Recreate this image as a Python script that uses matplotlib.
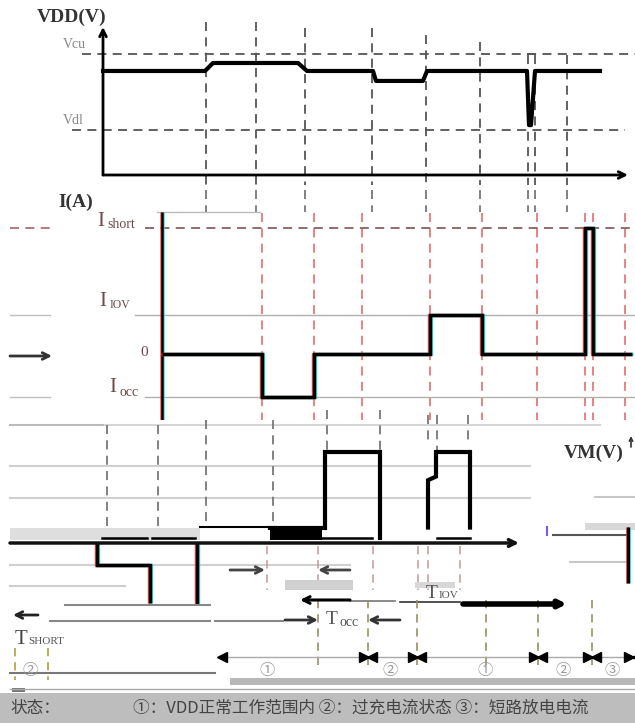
import matplotlib
matplotlib.use('Agg')
import matplotlib.pyplot as plt
import matplotlib.transforms as mtransforms
from matplotlib.patches import Rectangle

plt.rcParams['font.family'] = ['Liberation Serif', 'Noto Sans CJK SC', 'DejaVu Sans']

W, H = 635, 724

# ---------------- data ----------------
# VDD waveform: time breakpoints and voltage levels (arbitrary units)
vdd_t = [103, 205, 213, 298, 307, 373, 376, 423, 427, 527, 529, 531, 535, 600]
vdd_v = [3.65, 3.65, 3.93, 3.93, 3.65, 3.65, 3.30, 3.30, 3.65, 3.65, 1.75, 1.75, 3.65, 3.65]
vcu = 4.25
vdl = 1.58

# Current waveform
i_t = [162, 262, 262, 314, 314, 430, 430, 482, 482, 585, 585, 593, 593, 632]
i_v = [0, 0, -1.1, -1.1, 0, 0, 1.0, 1.0, 0, 0, 3.23, 3.23, 0, 0]
i_short, i_iov, i_occ = 3.23, 1.0, -1.1

# VM waveform fragments
vm1_t = [97, 97, 150, 150]
vm1_v = [0.0, -0.24, -0.24, -0.66]
vm2_t = [197, 197]
vm2_v = [0.0, -0.68]
vm3_t = [270, 325, 325, 380, 380]
vm3_v = [0.17, 0.17, 1.0, 1.0, 0.05]
vm4_t = [428, 428, 436, 436, 470, 470]
vm4_v = [0.17, 0.69, 0.73, 1.0, 1.0, 0.17]

# event times (dashed markers)
top_events = [206, 256, 305, 372, 426, 480, 528, 535, 567]
mid_events = [262, 314, 362, 430, 482, 537, 585, 593, 625]
bowtie_t = [368, 417, 538, 592, 633]
state_t = [30, 267, 390, 485, 563, 612]
state_lbl = ['②', '①', '②', '①', '②', '③']

# ---------------- figure ----------------
fig = plt.figure(figsize=(6.35, 7.24), dpi=100)


def make_ax(top_px, bot_px, ylim):
    ax = fig.add_axes([0, 1 - bot_px / H, 1, (bot_px - top_px) / H])
    ax.set_xlim(0, W)
    ax.set_ylim(*ylim)
    ax.axis('off')
    return ax


def ty(p):
    return (175 - p) / 28.5


def my(p):
    return (354 - p) / 39.0


def by(p):
    return (543 - p) / 91.0


ax_t = make_ax(0, 185, (ty(185), ty(0)))
ax_m = make_ax(190, 420, (my(420), my(190)))
ax_b = make_ax(410, 610, (by(610), by(410)))
ax_a = make_ax(540, 724, (724, 540))

DASH = (0, (5, 3.5))


def ab_plot(ax, x, y, lw=2.5, shift=1.3, color='k', alpha=0.85):
    for dx, c in ((-shift, '#ff2a2a'), (shift, '#20e0e0')):
        tr = mtransforms.offset_copy(ax.transData, fig=fig, x=dx, y=0, units='dots')
        ax.plot(x, y, color=c, lw=lw, transform=tr, alpha=alpha, solid_capstyle='butt')
    ax.plot(x, y, color=color, lw=lw, solid_capstyle='butt', solid_joinstyle='miter')


def arrow(ax, x0, y0, x1, y1, lw=2, color='k', style='->', ms=12):
    ax.annotate('', xy=(x1, y1), xytext=(x0, y0),
                arrowprops=dict(arrowstyle=style, lw=lw, color=color,
                                mutation_scale=ms, shrinkA=0, shrinkB=0))

# ============ TOP PANEL: VDD ============
for x, top in zip(top_events, [22, 22, 28, 28, 35, 42, 55, 55, 55]):
    ax_t.plot([x, x], [ty(top), ty(185)], ls=DASH, lw=1.3, color='#555')
    ax_m.plot([x, x], [my(190), my(212)], ls=DASH, lw=1.3, color='#777')
ax_t.plot([528, 535], [vcu, vcu], lw=1.3, color='#555')
ax_t.plot([82, 635], [vcu, vcu], ls=DASH, lw=1.3, color='#555')
ax_t.plot([72, 625], [vdl, vdl], ls=DASH, lw=1.3, color='#555')
arrow(ax_t, 103, 0, 103, ty(27), lw=2)
arrow(ax_t, 103, 0, 628, 0, lw=2)
ax_t.plot(vdd_t, vdd_v, color='k', lw=3, solid_joinstyle='round')
ax_t.text(72, ty(17), 'VDD(V)', fontsize=14, fontweight='bold', color='#333',
          ha='center', va='center', family='Liberation Serif')
ax_t.text(74, ty(44), 'Vcu', fontsize=10, color='#888', ha='center', va='center')
ax_t.text(73, ty(120), 'Vdl', fontsize=10, color='#888', ha='center', va='center')

# ============ MIDDLE PANEL: I ============
ax_m.plot([157, 260], [my(212), my(212)], lw=1, color='#bbb')
for x in mid_events:
    ax_m.plot([x, x], [my(213), my(420)], ls=DASH, lw=1.3, color='#e87878')
ax_m.plot([10, 50], [i_short, i_short], ls=DASH, lw=1.3, color='#b07070')
ax_m.plot([145, 635], [i_short, i_short], ls=DASH, lw=1.3, color='#8a5f5f')
for lv, x0 in ((i_iov, 135), (i_occ, 145)):
    ax_m.plot([x0, 635], [lv, lv], lw=1, color='#b0b0b0')
    ax_m.plot([10, 50], [lv, lv], lw=1, color='#c0c0c0')
arrow(ax_m, 162, 0, 636, 0, lw=2, color='#222')
arrow(ax_m, 10, my(356), 52, my(356), lw=2, color='#333')
ab_plot(ax_m, [162, 162], [my(420), my(212)], lw=1.8)
ab_plot(ax_m, i_t, i_v, lw=2.5)
ax_m.text(76, my(202), 'I(A)', fontsize=14, fontweight='bold', color='#333',
          ha='center', va='center')
lblc = '#6e4a4a'
ax_m.text(97, my(221), 'I', fontsize=15, color=lblc, ha='left', va='center')
ax_m.text(107, my(224), 'short', fontsize=10, color=lblc, ha='left', va='center')
ax_m.text(99, my(301), 'I', fontsize=15, color=lblc, ha='left', va='center')
ax_m.text(110, my(305), 'IOV', fontsize=8.5, color=lblc, ha='left', va='center')
ax_m.text(144, my(352), '0', fontsize=11, color=lblc, ha='center', va='center')
ax_m.text(109, my(388), 'I', fontsize=15, color=lblc, ha='left', va='center')
ax_m.text(119, my(392), 'occ', fontsize=10, color=lblc, ha='left', va='center')

# ============ BOTTOM PANEL: VM ============
for p, x0, x1, c in ((425, 10, 105, '#bbb'), (425, 105, 600, '#d5d5d5'),
                     (466, 10, 530, '#d0d0d0'), (498, 10, 530, '#d0d0d0'),
                     (565, 10, 350, '#cfcfcf'), (586, 10, 125, '#cfcfcf'),
                     (497, 595, 635, '#c8c8c8'), (562, 570, 628, '#c8c8c8')):
    ax_b.plot([x0, x1], [by(p), by(p)], lw=1.5, color=c)
ax_b.add_patch(Rectangle((10, by(540)), 190, by(528) - by(540), color='#dedede', lw=0))
ax_b.add_patch(Rectangle((585, by(530)), 50, by(523) - by(530), color='#d8d8d8', lw=0))
for x, p0, p1 in ((107, 425, 528), (158, 425, 528), (206, 420, 528), (273, 420, 528),
                  (327, 410, 450), (380, 410, 450), (428, 415, 445), (437, 415, 470),
                  (468, 415, 445)):
    ax_b.plot([x, x], [by(p0), by(p1)], ls=DASH, lw=1.3, color='#777')
for x in (267, 318, 373, 418, 428, 460):
    ax_b.plot([x, x], [by(546), by(590)], ls=DASH, lw=1.2, color='#c8a0a0')
for x0, x1 in ((102, 147), (152, 195), (315, 372), (437, 470)):
    ax_b.plot([x0, x1], [by(538), by(538)], lw=1.8, color='k')
ax_b.plot([200, 270], [by(527), by(527)], lw=1.5, color='k')
ax_b.fill_between([270, 322], by(540), by(528), color='k', lw=0)
arrow(ax_b, 10, 0, 519, 0, lw=2.5, color='#111')
ab_plot(ax_b, vm1_t, vm1_v, lw=2.5)
ab_plot(ax_b, vm2_t, vm2_v, lw=2.5)
ax_b.plot(vm3_t, vm3_v, color='k', lw=3, solid_joinstyle='miter')
ax_b.plot(vm4_t, vm4_v, color='k', lw=3, solid_joinstyle='miter')
ax_b.plot([553, 628], [by(535), by(535)], lw=1.5, color='#555')
ab_plot(ax_b, [628, 628], [by(527), by(583)], lw=2.2)
ax_b.plot([547, 547], [by(527), by(535)], lw=1.5, color='#7a5af0')
ax_b.text(594, by(453), 'VM(V)', fontsize=14, fontweight='bold', color='#333',
          ha='center', va='center')
arrow(ax_b, 631, by(447), 631, by(436), lw=1.2, color='#333', ms=6)

# ============ ANNOTATIONS ============
arrow(ax_a, 230, 570, 265, 570, lw=2, color='#444')
arrow(ax_a, 350, 570, 318, 570, lw=2, color='#444')
ax_a.add_patch(Rectangle((285, 580), 68, 10, color='#d0d0d0', lw=0))
ax_a.add_patch(Rectangle((415, 582), 40, 6, color='#d8d8d8', lw=0))
arrow(ax_a, 350, 600, 300, 600, lw=2.2, color='k')
ax_a.plot([350, 395], [601, 601], lw=1.2, color='#777')
ax_a.plot([400, 460], [602, 602], lw=1.2, color='#333')
arrow(ax_a, 463, 604, 567, 604, lw=4, color='k', ms=10)
ax_a.text(426, 593, 'T', fontsize=14, color='#555', ha='left', va='center')
ax_a.text(439, 596, 'IOV', fontsize=8, color='#555', ha='left', va='center')
ax_a.text(326, 620, 'T', fontsize=14, color='#555', ha='left', va='center')
ax_a.text(340, 623, 'occ', fontsize=10, color='#555', ha='left', va='center')
arrow(ax_a, 285, 620, 318, 620, lw=2, color='#333')
arrow(ax_a, 400, 620, 368, 620, lw=2, color='#333')
ax_a.plot([50, 210], [621, 621], lw=1.5, color='#888')
ax_a.plot([215, 283], [621, 621], lw=1.5, color='#888')
ax_a.plot([65, 210], [605, 605], lw=1.5, color='#888')
arrow(ax_a, 38, 615, 13, 615, lw=2, color='#222')
ax_a.text(15, 639, 'T', fontsize=15, color='#444', ha='left', va='center')
ax_a.text(28, 642, 'SHORT', fontsize=8, color='#555', ha='left', va='center')
for x in (318, 368, 417, 486, 538, 592):
    ax_a.plot([x, x], [600, 668], ls=DASH, lw=1.2, color='#9a9060')
for x in (15, 48):
    ax_a.plot([x, x], [648, 680], ls=DASH, lw=1.2, color='#b0a040')
ax_a.plot([224, 635], [657, 657], lw=1, color='#aaa')
ax_a.plot([222], [657], marker='<', ms=7, color='k', ls='none')
for x in bowtie_t:
    ax_a.plot([x - 4], [657], marker='>', ms=7, color='k', ls='none')
    ax_a.plot([x + 4], [657], marker='<', ms=7, color='k', ls='none')
for x, s in zip(state_t, state_lbl):
    ax_a.text(x, 671, s, fontsize=11, color='#999', ha='center', va='center')
ax_a.plot([10, 215], [673, 673], lw=1.5, color='#777')
ax_a.add_patch(Rectangle((230, 678), 405, 7, color='#b8b8b8', lw=0))
ax_a.plot([10, 635], [689, 689], lw=1, color='#aaa')
ax_a.add_patch(Rectangle((12, 688), 13, 4, color='#777', lw=0))
ax_a.add_patch(Rectangle((0, 693), 635, 30, color='#bdbdbd', lw=0))
ax_a.text(10, 708, '状态：', fontsize=12, color='#444', ha='left', va='center',
          family=['Noto Sans CJK SC', 'DejaVu Sans'])
ax_a.text(133, 708, '①：VDD正常工作范围内 ②：过充电流状态 ③：短路放电电流',
          fontsize=12, color='#444', ha='left', va='center',
          family=['Noto Sans CJK SC', 'DejaVu Sans'], clip_on=True)

fig.savefig('out.png', dpi=100)
